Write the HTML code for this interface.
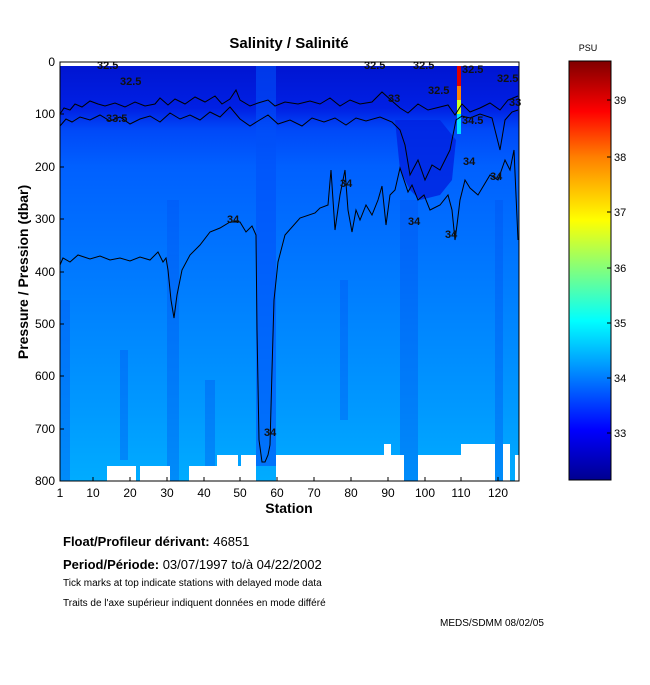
<!DOCTYPE html>
<html><head><meta charset="utf-8"><style>
body{margin:0;background:#fff;width:650px;height:680px;overflow:hidden;font-family:"Liberation Sans",sans-serif}
</style></head><body>
<svg width="650" height="680" xmlns="http://www.w3.org/2000/svg" font-family="Liberation Sans, sans-serif">
<defs>
<linearGradient id="bg" x1="0" y1="62" x2="0" y2="481" gradientUnits="userSpaceOnUse">
<stop offset="0" stop-color="#0014d0"/>
<stop offset="0.11" stop-color="#0020e4"/>
<stop offset="0.16" stop-color="#0048f8"/>
<stop offset="0.25" stop-color="#0060ff"/>
<stop offset="0.45" stop-color="#0074ff"/>
<stop offset="0.65" stop-color="#0088ff"/>
<stop offset="0.82" stop-color="#0098ff"/>
<stop offset="1" stop-color="#00acff"/>
</linearGradient>
<linearGradient id="cb" x1="0" y1="480" x2="0" y2="61" gradientUnits="userSpaceOnUse">
<stop offset="0" stop-color="#00008f"/>
<stop offset="0.12" stop-color="#0000ff"/>
<stop offset="0.28" stop-color="#00a0ff"/>
<stop offset="0.38" stop-color="#00ffff"/>
<stop offset="0.5" stop-color="#7fff80"/>
<stop offset="0.62" stop-color="#ffff00"/>
<stop offset="0.77" stop-color="#ff8000"/>
<stop offset="0.88" stop-color="#ff0000"/>
<stop offset="1" stop-color="#800000"/>
</linearGradient>
</defs>
<text x="289" y="48" font-size="15" font-weight="bold" text-anchor="middle">Salinity / Salinité</text>
<!-- plot area -->
<rect x="60" y="66" width="459" height="415" fill="url(#bg)"/>
<rect x="256" y="66" width="20" height="400" fill="#0050f8" opacity="0.6"/>
<g fill="#0050f0" opacity="0.35">
<rect x="167" y="200" width="12" height="281"/>
<rect x="60" y="300" width="10" height="181"/>
<rect x="400" y="200" width="18" height="281"/>
<rect x="495" y="200" width="8" height="281"/>
<rect x="120" y="350" width="8" height="110"/>
<rect x="205" y="380" width="10" height="90"/>
<rect x="340" y="280" width="8" height="140"/>
</g>
<path d="M395,120 L400,170 L410,190 L420,200 L440,195 L452,180 L456,140 L440,120 Z" fill="#0020e0" opacity="0.8"/>
<!-- white bottom -->
<g fill="#fff">
<rect x="217" y="455" width="39" height="26"/>
<rect x="276" y="455" width="128" height="26"/>
<rect x="418" y="455" width="77" height="26"/>
<rect x="503" y="455" width="7" height="26"/>
<rect x="515" y="455" width="4" height="26"/>
<rect x="461" y="444" width="34" height="12"/>
<rect x="503" y="444" width="7" height="12"/>
<rect x="384" y="444" width="7" height="12"/>
<rect x="107" y="466" width="29" height="15"/>
<rect x="140" y="466" width="30" height="15"/>
<rect x="189" y="466" width="28" height="15"/>
<rect x="150" y="466" width="20" height="15"/>
</g>
<rect x="238" y="455" width="3" height="11" fill="#00a0ff"/>
<!-- hot column -->
<rect x="457" y="66" width="4" height="20" fill="#e00000"/>
<rect x="457" y="86" width="4" height="14" fill="#ff8000"/>
<rect x="457" y="100" width="4" height="14" fill="#d0ff20"/>
<rect x="457" y="114" width="4" height="20" fill="#00e0ff"/>
<!-- contours -->
<g fill="none" stroke="#000" stroke-width="1">
<polyline points="60,114 64,108 70,110 75,104 82,107 90,101 98,104 105,106 115,103 125,107 135,102 145,106 155,104 160,98 168,105 175,99 185,104 195,97 205,102 215,96 222,104 230,99 236,90 240,100 250,106 258,103 268,100 275,106 285,102 298,104 310,101 320,104 330,98 340,106 350,100 360,104 372,102 382,92 392,101 400,108 408,113 418,104 428,110 440,107 448,105 455,115 462,104 470,112 480,108 490,103 500,110 508,100 518,96"/>
<polyline points="60,126 66,119 72,122 80,117 90,120 100,115 110,121 120,117 130,124 140,119 150,116 160,122 170,113 180,119 190,115 200,120 210,112 220,117 230,107 240,119 250,126 258,121 268,115 278,124 290,120 302,126 312,118 324,122 335,118 346,125 356,118 366,121 380,117 392,122 400,130 405,145 410,175 418,160 425,180 432,165 440,170 450,150 456,120 462,116 470,118 480,114 492,118 500,150 505,120 512,112 518,110"/>
<polyline points="60,265 63,258 70,262 78,255 90,259 100,256 110,260 120,258 130,261 140,257 150,260 158,252 163,262 166,258 168,270 171,300 174,318 177,295 182,270 190,255 200,245 210,232 220,228 230,222 240,222 246,232 252,226 256,235 257,330 259,440 262,462 265,462 268,455 270,445 272,370 274,300 278,262 285,235 300,218 315,213 320,208 328,205 331,170 335,230 340,195 345,170 348,210 352,232 356,210 360,220 366,205 372,215 378,200 382,186 386,225 390,195 395,190 400,168 404,180 408,192 412,185 418,200 424,195 430,210 440,205 448,195 452,210 455,240 457,225 460,200 465,180 470,188 478,195 484,185 490,175 498,180 505,160 510,170 514,150 518,240"/>
</g>
<g font-size="11" font-weight="bold" fill="#111">
<text x="97" y="69">32.5</text><text x="120" y="85">32.5</text>
<text x="106" y="122">33.5</text><text x="364" y="69">32.5</text>
<text x="413" y="69">32.5</text><text x="428" y="94">32.5</text>
<text x="462" y="73">32.5</text><text x="497" y="82">32.5</text>
<text x="388" y="102">33</text><text x="462" y="124">34.5</text>
<text x="509" y="106">33</text><text x="463" y="165">34</text>
<text x="340" y="187">34</text><text x="490" y="180">34</text>
<text x="227" y="223">34</text><text x="408" y="225">34</text>
<text x="445" y="238">34</text><text x="264" y="436">34</text>
</g>
<!-- axes -->
<rect x="60" y="62" width="459" height="419" fill="none" stroke="#000" stroke-width="1"/>
<g stroke="#000" stroke-width="1">
<line x1="60" y1="114" x2="64" y2="114"/><line x1="60" y1="167" x2="64" y2="167"/><line x1="60" y1="219" x2="64" y2="219"/>
<line x1="60" y1="272" x2="64" y2="272"/><line x1="60" y1="324" x2="64" y2="324"/><line x1="60" y1="376" x2="64" y2="376"/>
<line x1="60" y1="429" x2="64" y2="429"/>
<line x1="93" y1="481" x2="93" y2="477"/><line x1="130" y1="481" x2="130" y2="477"/><line x1="167" y1="481" x2="167" y2="477"/>
<line x1="204" y1="481" x2="204" y2="477"/><line x1="240" y1="481" x2="240" y2="477"/><line x1="277" y1="481" x2="277" y2="477"/>
<line x1="314" y1="481" x2="314" y2="477"/><line x1="351" y1="481" x2="351" y2="477"/><line x1="388" y1="481" x2="388" y2="477"/>
<line x1="425" y1="481" x2="425" y2="477"/><line x1="461" y1="481" x2="461" y2="477"/><line x1="498" y1="481" x2="498" y2="477"/>
</g>
<g font-size="12" text-anchor="end">
<text x="55" y="66">0</text><text x="55" y="118">100</text><text x="55" y="171">200</text><text x="55" y="223">300</text>
<text x="55" y="276">400</text><text x="55" y="328">500</text><text x="55" y="380">600</text><text x="55" y="433">700</text><text x="55" y="485">800</text>
</g>
<g font-size="12" text-anchor="middle">
<text x="60" y="497">1</text><text x="93" y="497">10</text><text x="130" y="497">20</text><text x="167" y="497">30</text>
<text x="204" y="497">40</text><text x="240" y="497">50</text><text x="277" y="497">60</text><text x="314" y="497">70</text>
<text x="351" y="497">80</text><text x="388" y="497">90</text><text x="425" y="497">100</text><text x="461" y="497">110</text><text x="498" y="497">120</text>
</g>
<text x="289" y="513" font-size="14" font-weight="bold" text-anchor="middle">Station</text>
<text transform="translate(28,272) rotate(-90)" font-size="14" font-weight="bold" text-anchor="middle">Pressure / Pression (dbar)</text>
<!-- colorbar -->
<text x="588" y="51" font-size="9" text-anchor="middle">PSU</text>
<rect x="569" y="61" width="42" height="419" fill="url(#cb)" stroke="#000"/>
<g stroke="#000"><line x1="607" y1="100" x2="611" y2="100"/><line x1="607" y1="157" x2="611" y2="157"/><line x1="607" y1="212" x2="611" y2="212"/><line x1="607" y1="268" x2="611" y2="268"/><line x1="607" y1="323" x2="611" y2="323"/><line x1="607" y1="378" x2="611" y2="378"/><line x1="607" y1="433" x2="611" y2="433"/></g>
<g font-size="11"><text x="614" y="104">39</text><text x="614" y="161">38</text><text x="614" y="216">37</text><text x="614" y="272">36</text><text x="614" y="327">35</text><text x="614" y="382">34</text><text x="614" y="437">33</text></g>
<!-- footer -->
<text x="63" y="546" font-size="13"><tspan font-weight="bold">Float/Profileur dérivant:</tspan> 46851</text>
<text x="63" y="569" font-size="13"><tspan font-weight="bold">Period/Période:</tspan> 03/07/1997  to/à  04/22/2002</text>
<text x="63" y="586" font-size="10">Tick marks at top indicate stations with delayed mode data</text>
<text x="63" y="606" font-size="10">Traits de l'axe supérieur indiquent données en mode différé</text>
<text x="440" y="626" font-size="10">MEDS/SDMM  08/02/05</text>
</svg>
</body></html>
